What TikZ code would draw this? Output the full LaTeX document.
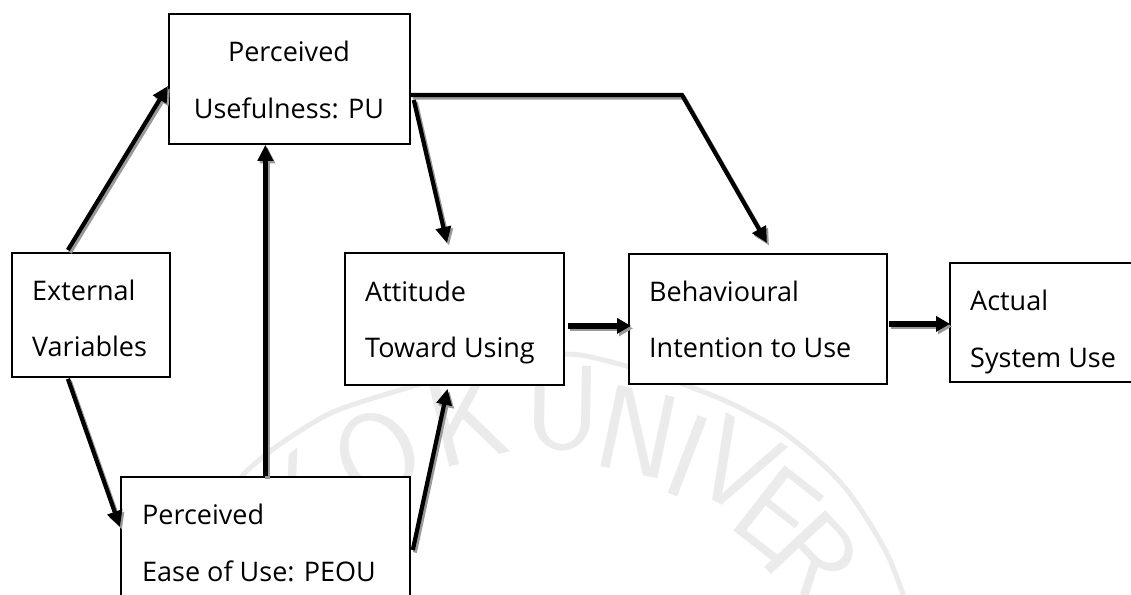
\documentclass[tikz,border=0pt]{standalone}
\usepackage{fontspec}
\setmainfont{Open Sans}
\usetikzlibrary{arrows.meta,calc}

% all connectors of the model; drawn once as a grey drop shadow and once in black
\newcommand\connectorpaths{%
  \draw[arr] ([shift={(-23,-2)}]ext.north) -- ([shift={(0,7)}]pu.west);
  \draw[arr] ([shift={(-23,1)}]ext.south) -- ([shift={(0,51)}]peou.north west);
  \draw[arr] (peou.north) -- (peou.north |- pu.south);
  \draw[arr] ([shift={(3,87)}]pu.north east) -- ([shift={(103,-9)}]att.north west);
  \draw[arr] ([shift={(0,82)}]pu.north east) -- (bend) -- ([shift={(139,-10)}]beh.north west);
  \draw[arr] ([shift={(2,74)}]peou.north east) -- ([shift={(103.5,3)}]att.south west);
  \draw[arrthick] ([shift={(3,7)}]att.east) -- ([shift={(3,7)}]att.east -| beh.west);
  \draw[arrthick] ([shift={(1,5)}]beh.east) -- ([shift={(1,5)}]beh.east -| act.west);
}

\begin{document}
\begin{tikzpicture}[x=1pt,y=-1pt,
  box/.style={draw=black, line width=1.8pt, fill=white, inner sep=0pt, anchor=north west},
  lbl/.style={inner sep=0pt, anchor=base west, font=\fontsize{27}{27}\selectfont},
  clbl/.style={lbl, anchor=base},
  arr/.style={line width=4.2pt, line join=miter,
    -{Triangle[length=16pt,width=15pt]}},
  arrthick/.style={arr, line width=5.5pt, -{Triangle[length=14pt,width=15pt]}},
  wm/.style={draw=black!8, line width=5pt},
  wmletter/.style={text=black!8, inner sep=0pt, font=\sffamily\fontsize{120}{120}\selectfont}
]
\useasboundingbox (0,0) rectangle (1131,594);
\clip (0,0) rectangle (1131,594);

% faint seal behind the model
\draw[wm] plot[smooth] coordinates {(225,495) (250,468) (283,442) (333,412) (400,390)
  (443,378) (500,362) (545,355) (580,355) (630,367) (680,383) (730,403) (780,430)
  (820,462) (847,490) (872,527) (890,560) (905,600)};
\node[wmletter, rotate=40]  (wmK1) at (300,500) {K};
\node[wmletter, rotate=28]  (wmO)  at (378,455) {O};
\node[wmletter, rotate=14]  (wmK2) at (467,420) {K};
\node[wmletter, rotate=-1]  (wmU)  at (563,408) {U};
\node[wmletter, rotate=-12] (wmN)  at (638,432) {N};
\node[wmletter, rotate=-21] (wmI)  at (688,456) {I};
\node[wmletter, rotate=-29] (wmV)  at (737,466) {V};
\node[wmletter, rotate=-38] (wmE)  at (778,512) {E};
\node[wmletter, rotate=-47] (wmR)  at (813,558) {R};

% boxes
\node[box, minimum width=241pt, minimum height=130pt] (pu)   at (168,13)  {};
\node[box, minimum width=158pt, minimum height=124pt] (ext)  at (11,252)  {};
\node[box, minimum width=289pt, minimum height=170pt] (peou) at (120,476) {};
\node[box, minimum width=219pt, minimum height=132pt] (att)  at (344,252) {};
\node[box, minimum width=258pt, minimum height=130pt] (beh)  at (628,253) {};
\node[box, minimum width=220pt, minimum height=119pt] (act)  at (949,262) {};

% box texts
\node[clbl] (puA)   at (289,62)  {Perceived};
\node[clbl] (puB)   at (289,118) {Usefulness: PU};
\node[lbl]  (extA)  at (32,300)  {External};
\node[lbl]  (extB)  at (32,356)  {Variables};
\node[lbl]  (peouA) at (142,524) {Perceived};
\node[lbl]  (peouB) at (142,581) {Ease of Use: PEOU};
\node[lbl]  (attA)  at (365,301) {Attitude};
\node[lbl]  (attB)  at (365,357) {Toward Using};
\node[lbl]  (behA)  at (649,301) {Behavioural};
\node[lbl]  (behB)  at (649,357) {Intention to Use};
\node[lbl]  (actA)  at (970,310) {Actual};
\node[lbl]  (actB)  at (970,367) {System Use};

% connectors
\coordinate (bend) at (682,95);
\begin{scope}[transform canvas={shift={(2pt,-2.5pt)}}, color=black!40]
  \connectorpaths
\end{scope}
\connectorpaths
\end{tikzpicture}
\end{document}
